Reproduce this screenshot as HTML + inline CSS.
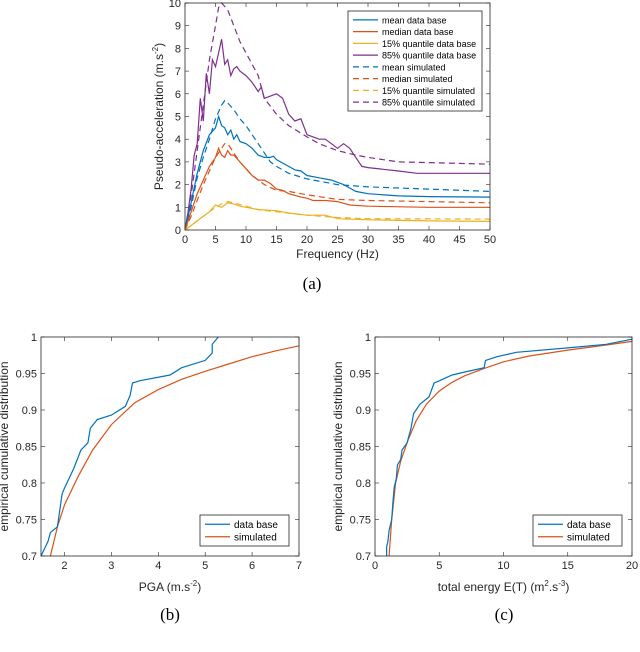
<!DOCTYPE html>
<html><head><meta charset="utf-8"><style>
body{margin:0;background:#fff;width:640px;height:647px;overflow:hidden}
svg{font-family:"Liberation Sans",sans-serif}
</style></head><body>
<svg id="s" width="640" height="647">
<text x="312" y="289" font-family="Liberation Serif" font-size="17" text-anchor="middle">(a)</text>
<text x="170" y="620" font-family="Liberation Serif" font-size="17" text-anchor="middle">(b)</text>
<text x="504" y="620" font-family="Liberation Serif" font-size="17" text-anchor="middle">(c)</text>
</svg>
<script>
// ---- Chart (a) data ----
const meanDbX=[0,1,2,3,4,5,5.5,6,6.5,7,7.5,8,8.5,9,10,11,12,13,14,14.5,15,17,18,19,20,22,24,25,26,27,28,30,35,40,50];
const meanDbY=[0,1.2,2.5,3.5,4.2,4.5,5.0,4.6,4.5,4.2,4.4,4.0,4.2,3.9,3.8,3.6,3.3,3.2,3.2,3.25,3.1,2.8,2.65,2.6,2.4,2.3,2.2,2.1,2.0,1.85,1.7,1.6,1.5,1.47,1.45];
const meanSimX=[0,1,2,3,4,5,6,6.5,7,8,9,10,11,12,13,14,15,17,20,25,30,40,50];
const meanSimY=[0,1.0,2.3,3.2,4.0,4.9,5.5,5.7,5.6,5.3,4.9,4.6,4.2,3.8,3.4,3.0,2.8,2.5,2.25,2.0,1.9,1.8,1.7];
const medDbX=[0,1,2,3,4,5,5.5,6,6.5,7,7.5,8,9,10,11,12,13,14,15,16,17,19,20,21,23,25,27,30,40,50];
const medDbY=[0,0.8,1.6,2.2,2.8,3.2,3.6,3.3,3.2,3.5,3.3,3.3,3.0,2.7,2.4,2.2,2.2,2.05,1.8,1.75,1.6,1.45,1.4,1.3,1.3,1.25,1.1,1.05,1.0,1.0];
const medSimX=[0,1,2,3,4,5,6,6.5,7,8,9,10,11,12,13,15,17,20,25,30,40,50];
const medSimY=[0,0.6,1.3,2.0,2.6,3.2,3.6,3.8,3.8,3.4,3.0,2.7,2.4,2.2,2.0,1.75,1.7,1.55,1.35,1.3,1.25,1.2];
const q15DbX=[0,1,2,3,4,5,6,7,8,9,10,12,15,17,20,23,25,30,40,50];
const q15DbY=[0,0.2,0.4,0.6,0.8,1.1,1.0,1.2,1.15,1.05,1.0,0.9,0.85,0.75,0.65,0.65,0.5,0.45,0.4,0.38];
const q15SimX=[0,2,4,5,6,7,8,10,12,15,20,25,30,50];
const q15SimY=[0,0.4,0.8,1.0,1.15,1.25,1.2,1.05,0.9,0.8,0.65,0.55,0.5,0.48];
const q85DbX=[0,0.5,1,1.5,2,2.5,3,3.5,4,4.5,5,5.5,6,6.5,7,7.5,8,8.5,9,10,11,12,12.5,13,14,15,16,17,18,19,20,21,22,23,24,25,26,27,28,29,30,35,38,50];
const q85DbY=[0,0.8,1.8,3.3,3.8,5.8,4.8,6.9,6.0,7.5,7.2,7.8,8.4,7.3,7.5,6.8,7.1,7.2,7.0,6.8,6.5,6.1,6.3,5.8,5.9,6.0,5.8,5.1,4.8,4.9,4.2,4.1,4.0,4.0,3.8,3.6,3.8,3.6,3.2,2.8,2.75,2.6,2.5,2.5];
const q85SimX=[0,1,2,3,4,5,5.5,6,7,8,9,10,12,13,15,17,20,22,25,28,30,35,40,50];
const q85SimY=[0,1.5,3.5,5.5,7.5,9.0,9.8,10,9.7,9.0,8.3,7.8,6.8,5.8,5.1,4.6,4.1,3.8,3.5,3.3,3.2,3.0,2.97,2.9];
const aXTicks=[0,5,10,15,20,25,30,35,40,45,50];
const aYTicks=[0,1,2,3,4,5,6,7,8,9,10];
const aLegend=["mean data base","median data base","15% quantile data base","85% quantile data base","mean simulated","median simulated","15% quantile simulated","85% quantile simulated"];
// ---- Chart (b) data ----
const pgaDbX=[1.5,1.65,1.7,1.85,1.95,2.0,2.2,2.35,2.5,2.55,2.7,3.0,3.3,3.4,3.45,3.6,4.25,4.5,5.0,5.15,5.15,5.28];
const pgaDbY=[0.7,0.72,0.732,0.74,0.785,0.793,0.82,0.845,0.855,0.875,0.887,0.893,0.905,0.92,0.937,0.94,0.948,0.958,0.968,0.978,0.99,1.0];
const pgaSimX=[1.7,1.85,2.0,2.3,2.6,3.0,3.5,4.0,4.5,5.0,5.5,6.0,6.5,7.0];
const pgaSimY=[0.7,0.74,0.77,0.81,0.845,0.88,0.91,0.928,0.942,0.953,0.963,0.973,0.981,0.988];
const bXTicks=[2,3,4,5,6,7];
// ---- Chart (c) data ----
const enDbX=[0.9,0.9,1.0,1.1,1.3,1.4,1.5,1.65,1.75,2.0,2.1,2.5,2.8,3.0,3.5,4.2,4.6,5.0,6.0,7.0,8.5,8.6,9.5,11,15,18,20];
const enDbY=[0.7,0.712,0.72,0.735,0.75,0.775,0.795,0.805,0.825,0.832,0.845,0.855,0.875,0.895,0.908,0.918,0.937,0.94,0.948,0.952,0.958,0.968,0.973,0.979,0.985,0.99,0.997];
const enSimX=[1.1,1.3,1.6,2.0,2.6,3.2,4,5,6,7,8.5,10,12,15,18,20];
const enSimY=[0.7,0.75,0.8,0.83,0.86,0.885,0.908,0.926,0.938,0.947,0.957,0.966,0.974,0.982,0.989,0.994];
const cXTicks=[0,5,10,15,20];
const cdfYTicks=[0.7,0.75,0.8,0.85,0.9,0.95,1];
const cdfYLabels=["0.7","0.75","0.8","0.85","0.9","0.95","1"];

const NS="http://www.w3.org/2000/svg";
const svg=document.getElementById('s');
const BLUE="#0072BD",RED="#D95319",YEL="#EDB120",PUR="#7E2F8E";
function mk(tag,attrs,parent){const e=document.createElementNS(NS,tag);for(const k in attrs)e.setAttribute(k,attrs[k]);(parent||svg).appendChild(e);return e;}

function axes(g,L,R,T,B,xs,ys,xt,xl,yt,yl){
  mk('rect',{x:L,y:T,width:R-L,height:B-T,fill:'#fff',stroke:'none'},g);
  xt.forEach((v,i)=>{const x=xs(v);
    mk('line',{x1:x,x2:x,y1:B,y2:B-4,stroke:'#262626','stroke-width':0.6},g);
    mk('line',{x1:x,x2:x,y1:T,y2:T+4,stroke:'#262626','stroke-width':0.6},g);
    const t=mk('text',{x:x,y:B+13,'font-size':11,'text-anchor':'middle',fill:'#262626'},g);t.textContent=xl[i];
    
    });
  yt.forEach((v,i)=>{const y=ys(v);
    mk('line',{x1:L,x2:L+4,y1:y,y2:y,stroke:'#262626','stroke-width':0.6},g);
    mk('line',{x1:R,x2:R-4,y1:y,y2:y,stroke:'#262626','stroke-width':0.6},g);
    const t=mk('text',{x:L-4,y:y+4,'font-size':11,'text-anchor':'end',fill:'#262626'},g);t.textContent=yl[i];
    
    });
}
function box(g,L,R,T,B){mk('rect',{x:L,y:T,width:R-L,height:B-T,fill:'none',stroke:'#262626','stroke-width':0.8},g);}
function line(g,xs,ys,X,Y,color,dash,name){
  const d=X.map((v,i)=>(i?'L':'M')+xs(v).toFixed(1)+','+ys(Y[i]).toFixed(1)).join('');
  const p=mk('path',{d:d,fill:'none',stroke:color,'stroke-width':1.2,'stroke-dasharray':dash?'6,4':'none'},g);
  
  
}
function legend(g,x,y,w,h,items,fs){
  mk('rect',{x:x,y:y,width:w,height:h,fill:'#fff',stroke:'#262626','stroke-width':0.8},g);
  const step=(h-6)/items.length;
  items.forEach((it,i)=>{const cy=y+3+step*(i+0.5);
    const le=mk('g',{},g);
    
    
    mk('line',{x1:x+5,x2:x+30,y1:cy,y2:cy,stroke:it[1],'stroke-width':1.2,'stroke-dasharray':it[2]?'6,4':'none'},le);
    const t=mk('text',{x:x+34,y:cy+3.5,'font-size':fs,fill:'#000'},le);t.textContent=it[0];});
}

// Chart a
(function(){
  const g=mk('g',{});
  const L=185,R=490,T=3,B=230;
  const xs=v=>L+(v/50)*(R-L), ys=v=>B-(v/10)*(B-T);
  axes(g,L,R,T,B,xs,ys,aXTicks,aXTicks.map(String),aYTicks,aYTicks.map(String));
  line(g,xs,ys,q85SimX,q85SimY,PUR,true,'line-85-simulated');
  line(g,xs,ys,q85DbX,q85DbY,PUR,false,'line-85-data-base');
  line(g,xs,ys,meanSimX,meanSimY,BLUE,true,'line-mean-simulated');
  line(g,xs,ys,meanDbX,meanDbY,BLUE,false,'line-mean-data-base');
  line(g,xs,ys,medSimX,medSimY,RED,true,'line-median-simulated');
  line(g,xs,ys,medDbX,medDbY,RED,false,'line-median-data-base');
  line(g,xs,ys,q15SimX,q15SimY,YEL,true,'line-15-simulated');
  line(g,xs,ys,q15DbX,q15DbY,YEL,false,'line-15-data-base');
  box(g,L,R,T,B);
  const cols=[BLUE,RED,YEL,PUR,BLUE,RED,YEL,PUR];
  legend(g,348,11,134,100,aLegend.map((s,i)=>[s,cols[i],i>=4]),9);
  const xl=mk('text',{x:(L+R)/2,y:258,'font-size':12,'text-anchor':'middle',fill:'#262626'},g);xl.textContent='Frequency (Hz)';
  
  const yl=mk('text',{transform:'translate(163,'+((T+B)/2)+') rotate(-90)','font-size':12,'text-anchor':'middle',fill:'#262626'},g);
  yl.innerHTML='Pseudo-acceleration (m.s<tspan font-size="8" dy="-5">-2</tspan><tspan dy="5">)</tspan>';
  
})();

function cdf(name,L,R,x0,x1,xt,dbX,dbY,simX,simY,xlabel){
  const g=mk('g',{});
  const T=337,B=556;
  const xs=v=>L+(v-x0)/(x1-x0)*(R-L), ys=v=>B-(v-0.7)/0.3*(B-T);
  axes(g,L,R,T,B,xs,ys,xt,xt.map(String),cdfYTicks,cdfYLabels);
  line(g,xs,ys,simX,simY,RED,false,'line-simulated');
  line(g,xs,ys,dbX,dbY,BLUE,false,'line-data-base');
  box(g,L,R,T,B);
  legend(g,R-99,515,89,31,[['data base',BLUE,false],['simulated',RED,false]],10);
  const xl=mk('text',{x:(L+R)/2,y:591,'font-size':12,'text-anchor':'middle',fill:'#262626'},g);xl.innerHTML=xlabel;
  
  const yl=mk('text',{transform:'translate('+(L-33)+','+((T+B)/2)+') rotate(-90)','font-size':12,'text-anchor':'middle',fill:'#262626'},g);
  yl.textContent='empirical cumulative distribution';
  
}
cdf('chart-b',41,299,1.5,7,bXTicks,pgaDbX,pgaDbY,pgaSimX,pgaSimY,'PGA (m.s<tspan font-size="8" dy="-5">-2</tspan><tspan dy="5">)</tspan>');
cdf('chart-c',375,632,0,20,cXTicks,enDbX,enDbY,enSimX,enSimY,'total energy E(T) (m<tspan font-size="8" dy="-5">2</tspan><tspan dy="5">.s</tspan><tspan font-size="8" dy="-5">-3</tspan><tspan dy="5">)</tspan>');
</script>
</body></html>
